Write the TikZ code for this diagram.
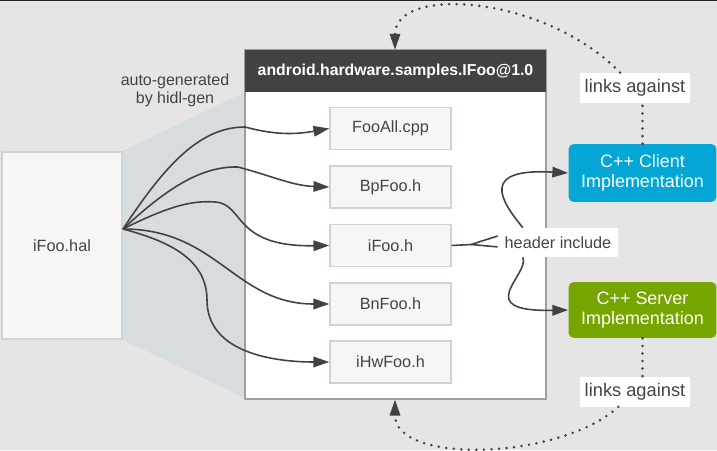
\documentclass[tikz,border=0pt]{standalone}
\usepackage{fontspec}
\setmainfont{Liberation Sans}
\usetikzlibrary{arrows.meta}

\definecolor{fondo}{HTML}{E5E5E5}
\definecolor{sombra}{HTML}{D6DCE0}
\definecolor{cajaclara}{HTML}{F6F6F6}
\definecolor{bordeclaro}{HTML}{CAD6D6}
\definecolor{bordepaq}{HTML}{9E9E9E}
\definecolor{oscuro}{HTML}{424242}
\definecolor{texto}{HTML}{444444}
\definecolor{cliente}{HTML}{03A6D5}
\definecolor{servidor}{HTML}{77A500}

\begin{document}
\begin{tikzpicture}[x=0.02cm,y=-0.02cm, %Ejemplo de HAL generada por hidl-gen
    archivo/.style={draw=bordeclaro, fill=cajaclara, line width=0.85pt, minimum width=2.42cm, minimum height=0.84cm, inner sep=0pt, text=texto, font=\fontsize{9.25}{11}\selectfont},
    impl/.style={rounded corners=3pt, text=white, align=center, minimum width=2.96cm, inner sep=0pt, font=\fontsize{10.2}{11.3}\selectfont},
    etiqueta/.style={fill=white, text=texto, inner sep=0pt, font=\fontsize{10.4}{12}\selectfont},
    flecha/.style={draw=oscuro, line width=0.9pt, -{Triangle[length=9pt,width=6pt]}},
    punteado/.style={draw=oscuro, line width=1.6pt, line cap=round, dash pattern=on 0pt off 4.3pt}]

        \useasboundingbox (0,0) rectangle (717,450);
        \fill[fondo] (0,0) rectangle (717,450);
        \draw[black!85, line width=0.8pt] (0,0.7) -- (717,0.7);

        \node[draw=bordeclaro, fill=cajaclara, line width=0.85pt, minimum width=2.4cm, minimum height=3.74cm, text=texto, font=\fontsize{9.25}{11}\selectfont] (hal) at (62,245.5) {iFoo.hal};

        \fill[sombra] (hal.north east) -- (245,92) -- (245,398) -- (hal.south east) -- cycle;

        \node[draw=bordepaq, fill=white, line width=0.85pt, minimum width=6.02cm, minimum height=6.98cm] (pkg) at (395.5,224.5) {};
        \node[fill=oscuro, text=white, minimum width=6.02cm, minimum height=0.84cm, inner sep=0pt, font=\bfseries\fontsize{9}{11}\selectfont] (cab) at (395.5,71) {android.hardware.samples.IFoo@1.0};

        \node[align=center, text=texto, font=\fontsize{9.1}{10.2}\selectfont] (autogen) at (175,90) {auto-generated\\by hidl-gen};

        \node[archivo] (fooall) at (390.5,128.5) {FooAll.cpp};
        \node[archivo] (bpfoo) at (390.5,187) {BpFoo.h};
        \node[archivo] (ifoo) at (390.5,245.5) {iFoo.h};
        \node[archivo] (bnfoo) at (390.5,304) {BnFoo.h};
        \node[archivo] (ihwfoo) at (390.5,362) {iHwFoo.h};

        \node[impl, fill=cliente, minimum height=1.16cm] (cliente) at (642.5,173) {C++ Client\\Implementation};
        \node[impl, fill=servidor, minimum height=1.12cm] (servidor) at (642.5,310) {C++ Server\\Implementation};

        \node[etiqueta, minimum width=2.2cm, minimum height=0.6cm] (enlace1) at (635,88) {links against};
        \node[etiqueta, minimum width=2.2cm, minimum height=0.6cm] (enlace2) at (635,391.5) {links against};
        \node[etiqueta, minimum width=2.4cm, minimum height=0.58cm, font=\fontsize{9.25}{11}\selectfont] (incluye) at (558,242.5) {header include};

        \coordinate (src) at (123,229);
        \coordinate (fork) at (471,244.5);

        \draw[flecha] (src) .. controls (165,165) and (200,127) .. (245,127) to[out=-15,in=190] (fooall.west);
        \draw[flecha] (src) .. controls (165,190) and (200,166) .. (238,167) to[out=-15,in=178] (bpfoo.west);
        \draw[flecha] (src) .. controls (165,208) and (190,200) .. (215,202) .. controls (245,204) and (232,247) .. (ifoo.west);
        \draw[flecha] (src) to[out=0,in=180,looseness=1.1] (bnfoo.west);
        \draw[flecha] (src) to[out=-15,in=90] (207,300) to[out=-90,in=180] (ihwfoo.west);

        \draw[draw=oscuro, line width=0.9pt] (ifoo.east) -- (fork);
        \draw[draw=oscuro, line width=0.9pt] (fork) -- ([yshift=3.7pt]incluye.west);
        \draw[draw=oscuro, line width=0.9pt] (fork) -- ([yshift=-2.5pt]incluye.west);

        \draw[flecha] ([xshift=-20pt]incluye.north) .. controls (500,200) and (480,168) .. (cliente.west);
        \draw[flecha] ([xshift=-20pt]incluye.south) .. controls (530,275) and (470,312) .. (servidor.west);

        \draw[punteado] (cliente.north) -- (cliente.north |- enlace1.south);
        \draw[punteado, -{Triangle[length=9pt,width=6pt,line width=0.9pt]}] ([xshift=-8.5pt]enlace1.north) .. controls (545,-5) and (395,-15) .. (cab.north -| 395,0);
        \draw[punteado] (servidor.south) -- (servidor.south |- enlace2.north);
        \draw[punteado, -{Triangle[length=9pt,width=6pt,line width=0.9pt]}] ([xshift=-9.5pt]enlace2.south) .. controls (560,460) and (395,465) .. (pkg.south -| 395,0);
    \end{tikzpicture}
\end{document}
